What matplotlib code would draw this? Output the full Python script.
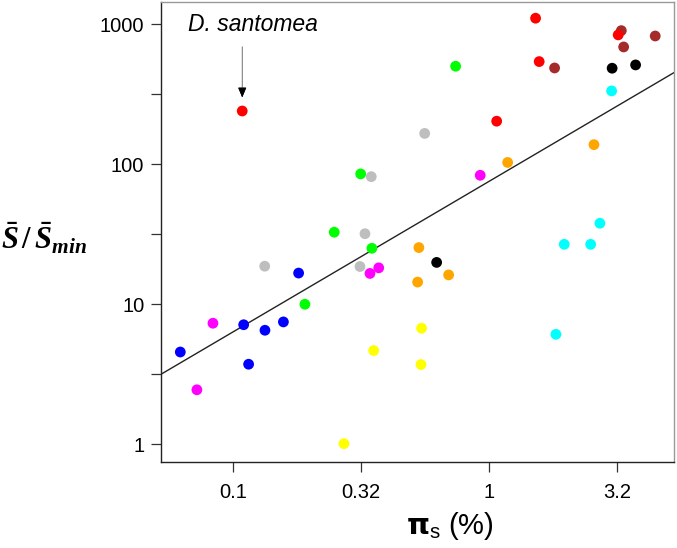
"""
Diversidade sinonima (pi_s) vs. razao S/S_min por especie, em escala log-log,
com a reta de regressao ajustada.
"""

import matplotlib
matplotlib.use("Agg")
import matplotlib.pyplot as plt
import numpy as np

plt.rcParams["font.family"] = ["Liberation Sans", "DejaVu Sans"]
plt.rcParams["mathtext.fontset"] = "custom"
plt.rcParams["mathtext.rm"] = "Liberation Serif:bold"
plt.rcParams["mathtext.it"] = "Liberation Serif:bold:italic"
plt.rcParams["mathtext.bf"] = "DejaVu Sans:bold"
plt.rcParams["mathtext.sf"] = "Liberation Sans"

# ---------- dados ----------
pi_s = [
    # blue
    0.0621, 0.1098, 0.1148, 0.133, 0.157, 0.18,
    # yellow
    0.2706, 0.3535, 0.541, 0.544,
    # magenta
    0.0721, 0.0833, 0.342, 0.37, 0.922,
    # gray
    0.1327, 0.3126, 0.327, 0.346, 0.5595,
    # green
    0.1905, 0.248, 0.348, 0.3146, 0.739,
    # orange
    0.525, 0.531, 0.694, 1.18, 2.565,
    # cyan
    1.822, 1.963, 2.49, 2.705, 3.006,
    # black
    0.623, 3.02, 3.73,
    # brown
    1.80, 3.28, 3.35, 4.45,
    # red
    0.1084, 1.069, 1.567, 1.517, 3.19,
]
s_ratio = [
    4.56, 7.14, 3.73, 6.52, 7.48, 16.7,
    1.01, 4.67, 3.71, 6.74,
    2.45, 7.32, 16.6, 18.2, 83.4,
    18.7, 18.6, 31.9, 81.5, 166,
    10.0, 32.7, 25.1, 85.3, 501,
    14.4, 25.4, 16.2, 103, 138,
    6.1, 26.8, 26.8, 37.9, 334,
    19.9, 485, 512,
    487, 900, 688, 824,
    240, 203, 541, 1104, 839,
]
group = (["blue"] * 6 + ["yellow"] * 4 + ["magenta"] * 5 + ["gray"] * 5 + ["green"] * 5
         + ["orange"] * 5 + ["cyan"] * 5 + ["black"] * 3 + ["brown"] * 4 + ["red"] * 5)

palette = {
    "blue": "#0000FF", "yellow": "#FFFF00", "magenta": "#FF00FF", "gray": "#BEBEBE",
    "green": "#00FF00", "orange": "#FFA500", "cyan": "#00FFFF", "black": "#000000",
    "brown": "#A52A2A", "red": "#FF0000",
}

# regressao: log10(y) = a + b * log10(x)
fit_a, fit_b = 1.8785, 1.075

x_ticks = [0.1, 10 ** -0.5, 1, 10 ** 0.5]
x_ticklabels = ["0.1", "0.32", "1", "3.2"]
y_ticks = [1, 10 ** 0.5, 10, 10 ** 1.5, 100, 10 ** 2.5, 1000]
y_ticklabels = ["1", "", "10", "", "100", "", "1000"]

# ---------- figura ----------
fig = plt.figure(figsize=(6.77, 5.48), dpi=100)
ax = fig.add_axes([0.2378, 0.1575, 0.7578, 0.839])
ax.set_xscale("log")
ax.set_yscale("log")
ax.set_xlim(0.0522, 5.27)
ax.set_ylim(0.751, 1443)

xs = np.array(pi_s)
ys = np.array(s_ratio)
cols = [palette[g] for g in group]
ax.scatter(xs, ys, s=60, c=cols, edgecolors="none", zorder=3)

xl = np.array(ax.get_xlim())
ax.plot(xl, 10 ** (fit_a + fit_b * np.log10(xl)), color="#222222", lw=1.0, zorder=2)

# seta para D. santomea: haste cinza fina, ponta preta
ax.annotate("", xy=(0.1084, 300), xytext=(0.1084, 690),
            arrowprops=dict(arrowstyle="-|>,head_length=0.6,head_width=0.25",
                            color="#555555", lw=0.6, shrinkA=0, shrinkB=0))
ax.annotate("", xy=(0.1084, 300), xytext=(0.1084, 340),
            arrowprops=dict(arrowstyle="-|>,head_length=0.6,head_width=0.25",
                            color="black", lw=0.6, shrinkA=0, shrinkB=0))
ax.text(0.1195, 1000, "D. santomea", style="italic", fontsize=16.5,
        ha="center", va="center")

ax.minorticks_off()
ax.set_xticks(x_ticks)
ax.set_xticklabels(x_ticklabels, fontsize=14.5)
ax.set_yticks(y_ticks)
ax.set_yticklabels(y_ticklabels, fontsize=14.5)
ax.tick_params(axis="y", length=7, width=0.9, color="#333333", pad=5)
ax.tick_params(axis="x", length=7, width=0.9, color="#333333", pad=8)

for side in ["left", "bottom"]:
    ax.spines[side].set_color("#222222")
for side in ["top", "right"]:
    ax.spines[side].set_color("#999999")
for sp in ax.spines.values():
    sp.set_linewidth(1.0)

fig.text(0.0015, 0.565, r"$\bar{S}\,/\,\bar{S}_{min}$", fontsize=22,
         ha="left", va="center")
fig.text(0.665, 0.04, r"$\mathbf{\pi}_{\mathsf{s}}$ (%)", fontsize=21,
         ha="center", va="center")

fig.savefig("out.png", dpi=100)
